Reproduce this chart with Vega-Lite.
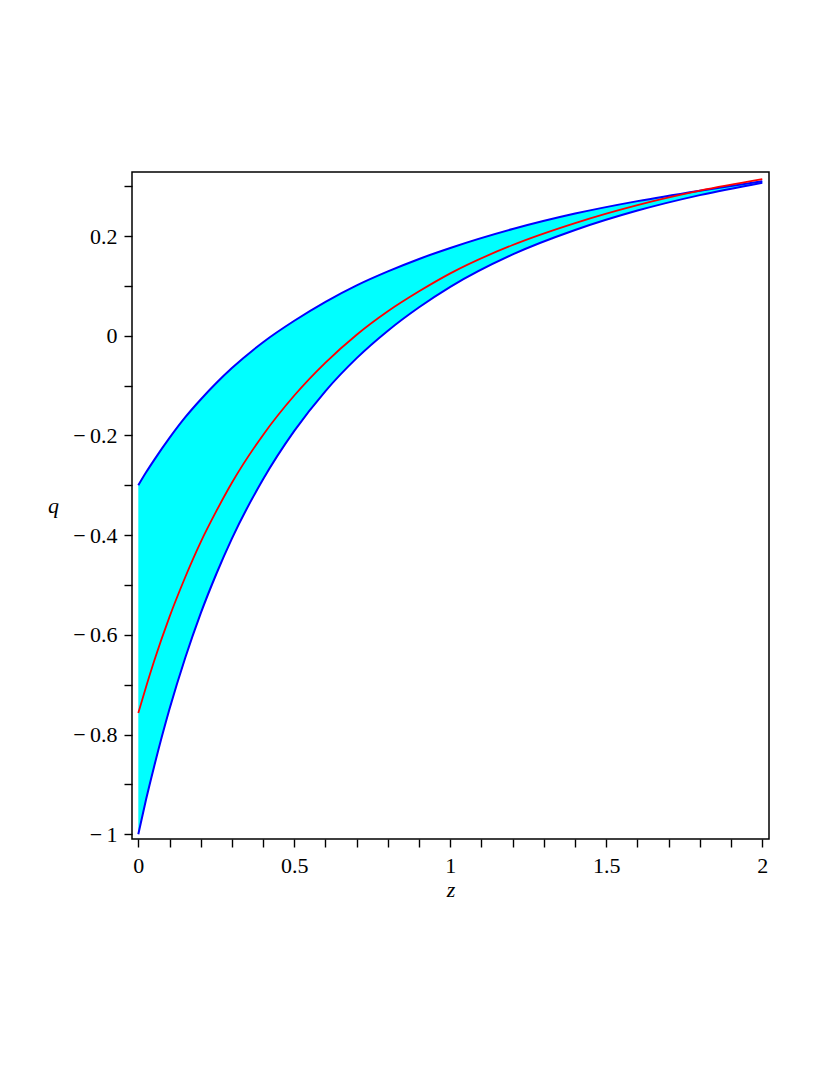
{
  "$schema": "https://vega.github.io/schema/vega-lite/v6.json",
  "width": 637,
  "height": 667,
  "autosize": {"type": "none"},
  "padding": {"left": 132, "top": 172, "right": 61, "bottom": 236},
  "background": "white",
  "config": {
    "view": {"stroke": "black", "strokeWidth": 1.5},
    "font": "Liberation Serif",
    "axis": {
      "labelFont": "Liberation Serif",
      "labelFontSize": 22,
      "labelColor": "black",
      "titleFont": "Liberation Serif",
      "titleFontSize": 22,
      "titleFontStyle": "italic",
      "titleFontWeight": "normal",
      "titleColor": "black",
      "tickColor": "black",
      "tickWidth": 1.4,
      "tickSize": 8,
      "domain": false,
      "grid": false,
      "labelOverlap": false,
      "labelBound": false,
      "labelFlush": false
    }
  },
  "data": {
    "values": [
      {"z": 0, "upper": -0.300, "center": -0.757, "lower": -1.000},
      {"z": 0.025, "upper": -0.274, "center": -0.704, "lower": -0.930},
      {"z": 0.05, "upper": -0.250, "center": -0.654, "lower": -0.866},
      {"z": 0.1, "upper": -0.205, "center": -0.564, "lower": -0.749},
      {"z": 0.15, "upper": -0.164, "center": -0.485, "lower": -0.647},
      {"z": 0.2, "upper": -0.128, "center": -0.414, "lower": -0.557},
      {"z": 0.25, "upper": -0.095, "center": -0.352, "lower": -0.478},
      {"z": 0.3, "upper": -0.065, "center": -0.295, "lower": -0.407},
      {"z": 0.4, "upper": -0.013, "center": -0.199, "lower": -0.288},
      {"z": 0.5, "upper": 0.030, "center": -0.120, "lower": -0.191},
      {"z": 0.6, "upper": 0.068, "center": -0.054, "lower": -0.111},
      {"z": 0.7, "upper": 0.101, "center": 0.002, "lower": -0.045},
      {"z": 0.8, "upper": 0.129, "center": 0.049, "lower": 0.010},
      {"z": 0.9, "upper": 0.154, "center": 0.089, "lower": 0.057},
      {"z": 1.0, "upper": 0.176, "center": 0.125, "lower": 0.098},
      {"z": 1.2, "upper": 0.214, "center": 0.182, "lower": 0.163},
      {"z": 1.4, "upper": 0.245, "center": 0.226, "lower": 0.212},
      {"z": 1.6, "upper": 0.270, "center": 0.262, "lower": 0.251},
      {"z": 1.8, "upper": 0.291, "center": 0.291, "lower": 0.282},
      {"z": 2.0, "upper": 0.310, "center": 0.314, "lower": 0.307}
    ]
  },
  "encoding": {
    "x": {
      "field": "z",
      "type": "quantitative",
      "scale": {"domain": [-0.0202, 2.0215], "nice": false, "zero": false},
      "axis": {
        "title": "z",
        "values": [0, 0.1, 0.2, 0.3, 0.4, 0.5, 0.6, 0.7, 0.8, 0.9, 1, 1.1, 1.2, 1.3, 1.4, 1.5, 1.6, 1.7, 1.8, 1.9, 2],
        "labelExpr": "abs(datum.value*2 - round(datum.value*2)) < 0.001 ? format(datum.value, '~g') : ''",
        "labelPadding": 8,
        "titlePadding": 3
      }
    }
  },
  "layer": [
    {
      "mark": {"type": "area", "color": "#00ffff", "opacity": 1, "interpolate": "monotone"},
      "encoding": {
        "y": {
          "field": "lower",
          "type": "quantitative",
          "scale": {"domain": [-1.0096, 0.3284], "nice": false, "zero": false},
          "axis": {
            "title": "q",
            "titleAngle": 0,
            "titleX": -79,
            "titleY": 333,
            "titleAlign": "center",
            "titleBaseline": "middle",
            "values": [-1, -0.9, -0.8, -0.7, -0.6, -0.5, -0.4, -0.3, -0.2, -0.1, 0, 0.1, 0.2, 0.3],
            "labelExpr": "abs(datum.value*5 - round(datum.value*5)) < 0.001 ? replace(format(datum.value, '~g'), '\u2212', '\u2212\u2009') : ''",
            "labelPadding": 7
          }
        },
        "y2": {"field": "upper"}
      }
    },
    {
      "mark": {"type": "line", "color": "#0000ff", "strokeWidth": 2, "interpolate": "monotone"},
      "encoding": {"y": {"field": "upper", "type": "quantitative"}}
    },
    {
      "mark": {"type": "line", "color": "#0000ff", "strokeWidth": 2, "interpolate": "monotone"},
      "encoding": {"y": {"field": "lower", "type": "quantitative"}}
    },
    {
      "mark": {"type": "line", "color": "#ff0000", "strokeWidth": 1.8, "interpolate": "monotone"},
      "encoding": {"y": {"field": "center", "type": "quantitative"}}
    }
  ]
}
